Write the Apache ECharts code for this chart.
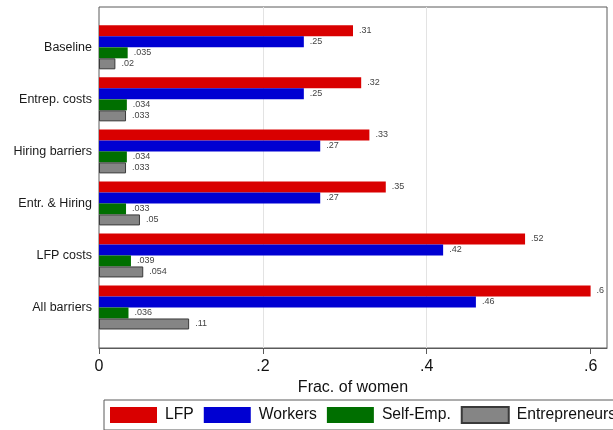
<!DOCTYPE html>
<html>
<head>
<meta charset="utf-8">
<script src="https://cdn.jsdelivr.net/npm/echarts@6/dist/echarts.min.js"></script>
<style>
html,body{margin:0;padding:0;background:#fff;}
#chart{width:613px;height:430px;}
</style>
</head>
<body>
<div id="chart"></div>
<script>
const categories = ['Baseline', 'Entrep. costs', 'Hiring barriers', 'Entr. & Hiring', 'LFP costs', 'All barriers'];
const seriesNames = ['LFP', 'Workers', 'Self-Emp.', 'Entrepreneurs'];
const lfp = [0.31, 0.32, 0.33, 0.35, 0.52, 0.6];
const workers = [0.25, 0.25, 0.27, 0.27, 0.42, 0.46];
const selfEmp = [0.035, 0.034, 0.034, 0.033, 0.039, 0.036];
const entrepreneurs = [0.02, 0.033, 0.033, 0.05, 0.054, 0.11];
const xTicks = [0, 0.2, 0.4, 0.6];
const xGridLines = [0.2, 0.4];

const colors = ['#d90000', '#0000d2', '#006f00', '#858585'];
const borders = ['#d90000', '#0000d2', '#006f00', '#3a3a3a'];
const values = [lfp, workers, selfEmp, entrepreneurs];

function fmt(v) {
  if (v === 0) return '0';
  return String(v).replace(/^0/, '');
}

const chart = echarts.init(document.getElementById('chart'), null, {renderer: 'canvas'});

const barSeries = seriesNames.map((name, i) => ({
  name: name,
  type: 'bar',
  xAxisIndex: 1,
  yAxisIndex: 1,
  barWidth: 11,
  barGap: '0%',
  z: 3,
  itemStyle: {color: colors[i], borderColor: borders[i], borderWidth: i === 3 ? 1 : 0},
  label: {
    show: true,
    position: 'right',
    distance: 6,
    fontSize: 9,
    fontFamily: 'Liberation Sans, Arial, sans-serif',
    color: '#444',
    formatter: p => fmt(p.value)
  },
  data: values[i]
}));

const option = {
  animation: false,
  backgroundColor: '#ffffff',
  grid: [
    {left: 99, right: 6, top: 7, bottom: 82, show: true, borderColor: '#5a5a5a', borderWidth: 1, backgroundColor: 'transparent'},
    {left: 99, right: 6, top: 21.3, height: 312.2}
  ],
  xAxis: [
    {
      type: 'value', gridIndex: 0, min: 0, max: 0.62,
      name: 'Frac. of women', nameLocation: 'middle', nameGap: 25,
      nameTextStyle: {fontSize: 16, color: '#111', fontFamily: 'Liberation Sans, Arial, sans-serif'},
      axisLine: {show: true, lineStyle: {color: '#5a5a5a', width: 1}},
      axisTick: {show: true, length: 6, customValues: xTicks, lineStyle: {color: '#5a5a5a'}},
      axisLabel: {
        show: true, margin: 11, fontSize: 16, color: '#111',
        fontFamily: 'Liberation Sans, Arial, sans-serif',
        customValues: xTicks,
        formatter: v => (Math.abs(v - 0.62) < 1e-9 ? '' : fmt(v))
      },
      splitLine: {show: false}
    },
    {type: 'value', gridIndex: 1, min: 0, max: 0.62, show: false}
  ],
  yAxis: [
    {type: 'value', gridIndex: 0, min: 0, max: 1, show: false},
    {
      type: 'category', gridIndex: 1, data: categories, inverse: true,
      axisLine: {show: false}, axisTick: {show: false},
      axisLabel: {margin: 7, fontSize: 12.5, color: '#1a1a1a', fontFamily: 'Liberation Sans, Arial, sans-serif'},
      splitLine: {show: false}
    }
  ],
  legend: {
    left: 104, top: 400, width: 760,
    orient: 'horizontal',
    padding: [6, 8, 6, 6],
    itemWidth: 47, itemHeight: 16, itemGap: 10,
    borderColor: '#5a5a5a', borderWidth: 1,
    icon: 'rect',
    textStyle: {fontSize: 15.7, color: '#111', fontFamily: 'Liberation Sans, Arial, sans-serif', padding: [0, 0, 0, 3]},
    data: seriesNames
  },
  series: [
    {
      type: 'line', xAxisIndex: 0, yAxisIndex: 0, data: [], z: 1, silent: true,
      markLine: {
        z: 1,
        silent: true, symbol: 'none', animation: false,
        label: {show: false},
        lineStyle: {color: '#e3e3e3', width: 1, type: 'solid'},
        data: xGridLines.map(v => ({xAxis: v}))
      }
    }
  ].concat(barSeries)
};

chart.setOption(option);
</script>
</body>
</html>
